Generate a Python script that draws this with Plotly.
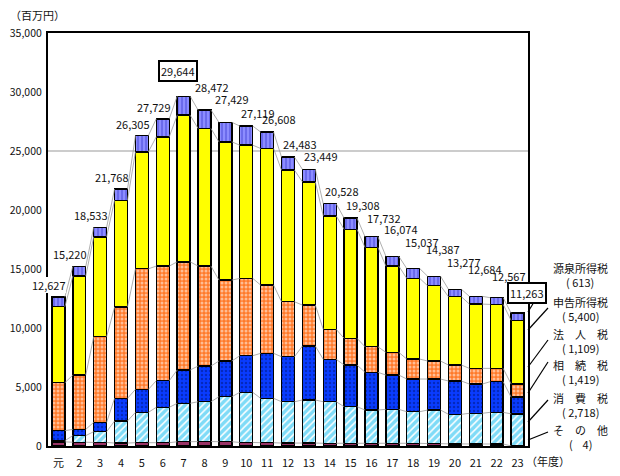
import plotly.graph_objects as go

# ---------------- data ----------------
years = ["元"] + [str(i) for i in range(2, 24)]
totals = [12627, 15220, 18533, 21768, 26305, 27729, 29644, 28472, 27429, 27119, 26608,
          24483, 23449, 20528, 19308, 17732, 16074, 15037, 14387, 13277, 12684, 12567, 11263]
sonota = [350, 320, 300, 250, 280, 280, 360, 380, 364, 300, 280, 250, 250, 230, 230, 230,
          230, 230, 200, 180, 170, 170, 4]
shohi = [100, 560, 915, 1870, 2574, 2998, 3257, 3372, 3812, 4248, 3760, 3502, 3646, 3522,
         3099, 2819, 2876, 2675, 2849, 2505, 2600, 2684, 2718]
sozoku = [850, 530, 790, 1920, 1946, 2253, 2820, 3024, 3024, 3101, 3812, 3812, 4574, 3591,
          3532, 3193, 2908, 2770, 2626, 2821, 2481, 2595, 1419]
hojin = [4060, 4600, 7250, 7730, 10218, 9715, 9173, 8470, 6860, 6555, 5785, 4658, 3473,
         2541, 2261, 2169, 1922, 1694, 1525, 1355, 1328, 1130, 1109]
shinkoku = [6440, 8400, 8470, 9060, 9912, 10954, 12426, 11664, 11715, 11291, 11576, 11155,
            10444, 9622, 9232, 8419, 7310, 6835, 6380, 5785, 5448, 5421, 5400]
gensen = [827, 810, 808, 938, 1375, 1529, 1608, 1562, 1654, 1624, 1395, 1106, 1062, 1022,
          954, 902, 828, 833, 807, 631, 657, 567, 613]

series_names = ["その他", "消費税", "相続税", "法人税", "申告所得税", "源泉所得税"]
legend_titles = ["源泉所得税", "申告所得税", "法　人　税", "相　続　税", "消　費　税", "そ　の　他"]

# ---------------- styling ----------------
FONT = "Noto Sans CJK JP"
n = len(years)
xs = list(range(n))
BW = 0.62

styles = [
    dict(color="#993366", pattern=None),
    dict(color="white", pattern=dict(shape="/", fgcolor="#00B8F0", size=5, solidity=0.7, fillmode="overlay")),
    dict(color="#0A3CFF", pattern=dict(shape=".", fgcolor="#00157A", size=4, solidity=0.3, fillmode="overlay")),
    dict(color="#FF7A2A", pattern=dict(shape=".", fgcolor="#FFFFFF", size=4, solidity=0.45, fillmode="overlay")),
    dict(color="#FFFF00", pattern=None),
    dict(color="#8C8CFF", pattern=dict(shape="|", fgcolor="#2B2BC8", size=4, solidity=0.35, fillmode="overlay")),
]
series_vals = [sonota, shohi, sozoku, hojin, shinkoku, gensen]

fig = go.Figure()

# series lines between bars (Excel-style)
cum = [0] * n
lx, ly = [], []
for vals in series_vals:
    cum = [c + v for c, v in zip(cum, vals)]
    for i in range(n - 1):
        lx += [i + BW / 2, i + 1 - BW / 2, None]
        ly += [cum[i], cum[i + 1], None]
fig.add_trace(go.Scatter(x=lx, y=ly, mode="lines", line=dict(color="#9a9a9a", width=0.8),
                         hoverinfo="skip", showlegend=False))

for name, vals, st in zip(series_names, series_vals, styles):
    marker = dict(color=st["color"], line=dict(color="black", width=1.4))
    if st["pattern"]:
        marker["pattern"] = st["pattern"]
    fig.add_trace(go.Bar(x=xs, y=vals, name=name, marker=marker, width=BW, showlegend=False))

# ---------------- layout ----------------
# the page body has an 8px margin; the figure is sized so the plot lands at page 48..528 x 33..446
OFF = 8
W, H = 612, 468
L, T = 48 - OFF, 33 - OFF
R = W - (528 - OFF)
B = H - (446 - OFF)
PW, PH = W - L - R, H - T - B


def px(x):
    return (x - OFF - L) / PW


def py(y):
    return (H - B - (y - OFF)) / PH


fig.update_layout(
    width=W, height=H, barmode="stack",
    margin=dict(l=L, r=R, t=T, b=B, pad=0, autoexpand=False),
    paper_bgcolor="white", plot_bgcolor="white",
    font=dict(family=FONT, size=11, color="#111"),
    xaxis=dict(range=[-0.5, n - 0.5], tickvals=xs, ticktext=years, showgrid=False,
               showline=True, linecolor="black", linewidth=2.2, mirror=True,
               ticks="", tickfont=dict(size=11, color="#111"), ticklabelstandoff=6,
               zeroline=False, fixedrange=True, automargin=False),
    yaxis=dict(range=[0, 35000], dtick=5000, tickformat=",d", showgrid=False,
               showline=True, linecolor="black", linewidth=2.2, mirror=True,
               ticks="", tickfont=dict(size=10.5, color="#111"), ticklabelstandoff=2,
               zeroline=False, fixedrange=True, automargin=False),
)

# single gridline at 25,000
fig.add_shape(type="line", xref="paper", yref="y", x0=0, x1=1, y0=25000, y1=25000,
              line=dict(color="#999999", width=1), layer="below")


def label_offset(i, peak, last):
    """Pixel nudges for the total labels (hand-placed in the original chart)."""
    if i == peak:
        return -6, 25
    if i == last:
        return 9, 20
    if i < peak:
        return -9, 12
    if i <= peak + 2:
        return 7, 23
    if i <= 14:
        return 12, 13
    if i == 15:
        return 13, 19
    if i == last - 1:
        return 12, 22
    return 9, 27


# total labels
peak = totals.index(max(totals))
last = n - 1
for i, t in enumerate(totals):
    boxed = i in (peak, last)
    dx, dy = label_offset(i, peak, last)
    fig.add_annotation(x=i, y=t, xref="x", yref="y", text=f"{t:,}", showarrow=False,
                       xshift=dx, yshift=dy, yanchor="middle",
                       font=dict(size=11, color="#111"),
                       bgcolor="white" if (boxed or i == 0) else "rgba(0,0,0,0)",
                       bordercolor="black" if boxed else "rgba(0,0,0,0)",
                       borderwidth=2 if boxed else 0, borderpad=1 if boxed else 0)

# axis unit labels
fig.add_annotation(xref="paper", yref="paper", x=px(8), y=py(15), text="（百万円）",
                   showarrow=False, xanchor="left", yanchor="middle", font=dict(size=11))
fig.add_annotation(xref="paper", yref="paper", x=px(524), y=py(461), text="（年度）",
                   showarrow=False, xanchor="left", yanchor="middle", font=dict(size=11))

# legend-style labels on the right (values from the last year)
last_vals = [gensen[-1], shinkoku[-1], hojin[-1], sozoku[-1], shohi[-1], sonota[-1]]
title_y = [268, 302, 334, 365, 398, 430]
for k, (title, v) in enumerate(zip(legend_titles, last_vals)):
    vtxt = f"( {v:,})" if v >= 1000 else (f"( {v})" if v >= 100 else f"(    {v})")
    fig.add_annotation(xref="paper", yref="paper", x=px(580), y=py(title_y[k]), text=title,
                       showarrow=False, xanchor="center", yanchor="middle", font=dict(size=11))
    fig.add_annotation(xref="paper", yref="paper", x=px(580), y=py(title_y[k] + 14), text=vtxt,
                       showarrow=False, xanchor="center", yanchor="middle", font=dict(size=11))

leaders = [((540, 292), (528, 312)), ((548, 308), (528, 330)), ((548, 340), (528, 367)),
           ((548, 362), (528, 393)), ((548, 400), (528, 422)), ((548, 432), (528, 440))]
for (x0, y0), (x1, y1) in leaders:
    fig.add_shape(type="line", xref="paper", yref="paper", x0=px(x0), y0=py(y0),
                  x1=px(x1), y1=py(y1), line=dict(color="black", width=1.2))

fig.write_html("out.html")
